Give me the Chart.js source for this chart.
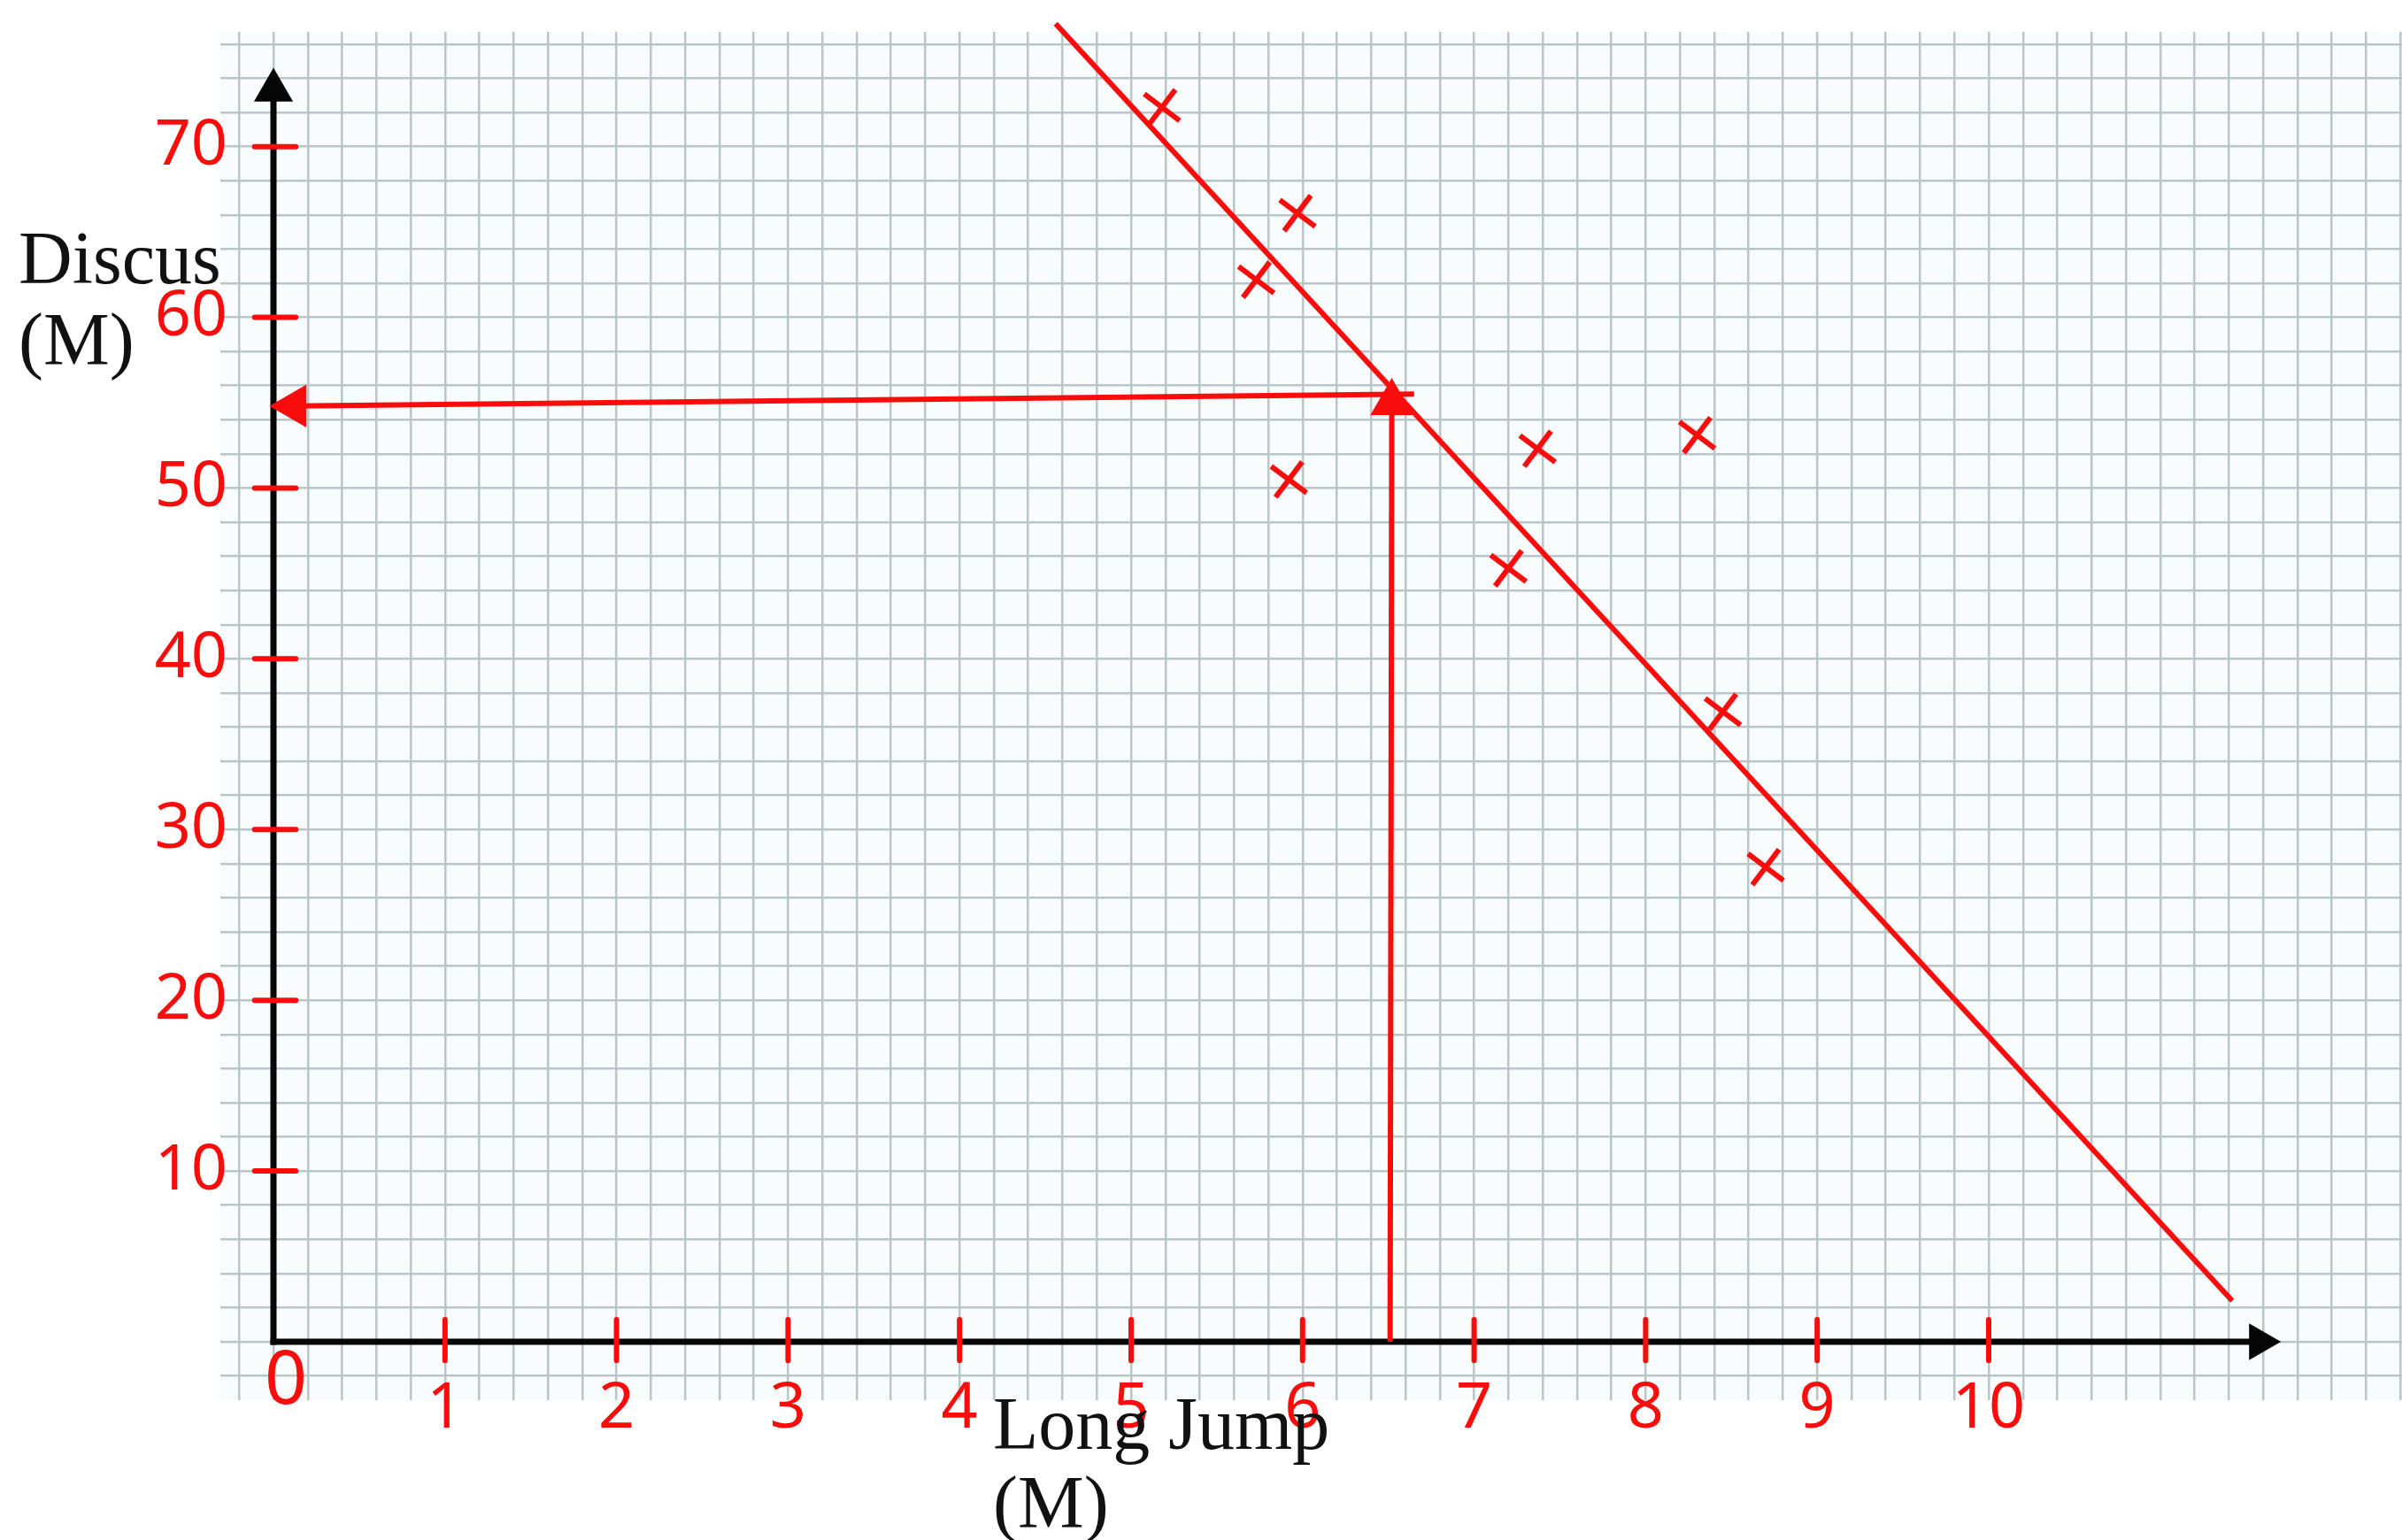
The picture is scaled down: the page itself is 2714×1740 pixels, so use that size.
<!DOCTYPE html>
<html>
<head>
<meta charset="utf-8">
<title>Discus vs Long Jump</title>
<script src="https://cdn.jsdelivr.net/npm/chart.js@4.4.1/dist/chart.umd.min.js"></script>
<style>
  html, body { margin: 0; padding: 0; background: #fff; overflow: hidden; }
  #wrap { width: 2714px; height: 1740px; }
</style>
</head>
<body>
<div id="wrap"><canvas id="scatter" width="2714" height="1740"></canvas></div>
<script>
// Plotted results: long jump (m) against discus (m)
const longJump = [5.18, 5.97, 5.73, 7.37, 8.30, 5.92, 7.20, 8.45, 8.70];
const discus   = [72.3, 66.1, 62.2, 52.3, 53.1, 50.5, 45.3, 36.9, 27.8];

// Hand-drawn line of best fit (its two ends)
const fitX = [4.56, 11.42];
const fitY = [77.2, 2.4];

// Reading off the line at 6.5 m: up from the x axis, then across to the y axis
const readUpX = [6.51, 6.52];
const readUpY = [0, 55.0];
const readAcrossX = [6.65, 0.12];
const readAcrossY = [55.5, 54.8];

// Axis tick labels
const xTicks = [1, 2, 3, 4, 5, 6, 7, 8, 9, 10];
const yTicks = [10, 20, 30, 40, 50, 60, 70];

// Where the drawn axes stop (arrowheads)
const xAxisEnd = 11.58;
const yAxisEnd = 73.3;

const RED = '#f80c0c';
const INK = '#060606';

function pts(xs, ys) {
    return xs.map((v, i) => ({ x: v, y: ys[i] }));
}

// short strokes across the axes at every labelled value
const xTickMarks = [];
xTicks.forEach(v => {
    xTickMarks.push({ x: v, y: -1.1 }, { x: v, y: 1.3 }, { x: v, y: null });
});
const yTickMarks = [];
yTicks.forEach(v => {
    yTickMarks.push({ x: -0.11, y: v }, { x: 0.13, y: v }, { x: null, y: v });
});

// graph paper background
const paperPlugin = {
    id: 'paper',
    beforeDraw(chart) {
        const { ctx, chartArea: a } = chart;
        ctx.save();
        ctx.fillStyle = '#ffffff';
        ctx.fillRect(0, 0, chart.width, chart.height);
        ctx.fillStyle = '#f9fcfc';
        ctx.fillRect(a.left, a.top, a.right - a.left, a.bottom - a.top);
        ctx.restore();
    }
};

// red hand-written numbers and the axis titles
const labelPlugin = {
    id: 'handLabels',
    afterDraw(chart) {
        const { ctx, scales: { x, y } } = chart;
        const x0 = x.getPixelForValue(0);
        const y0 = y.getPixelForValue(0);
        ctx.save();
        ctx.fillStyle = RED;
        ctx.font = '72px "Noto Sans"';
        ctx.textAlign = 'center';
        ctx.textBaseline = 'middle';
        xTicks.forEach(v => ctx.fillText(String(v), x.getPixelForValue(v), y0 + 76));
        ctx.font = '84px "Noto Sans"';
        ctx.fillText('0', x0 + 14, y0 + 46);
        ctx.font = '72px "Noto Sans"';
        ctx.textAlign = 'right';
        yTicks.forEach(v => ctx.fillText(String(v), x0 - 52, y.getPixelForValue(v)));

        ctx.fillStyle = '#111';
        ctx.font = '84px "Liberation Serif"';
        ctx.textAlign = 'left';
        ctx.textBaseline = 'alphabetic';
        ctx.fillText('Discus', 21, 320);
        ctx.fillText('(M)', 21, 412);
        ctx.fillText('Long Jump', 1122, 1637);
        ctx.fillText('(M)', 1122, 1726);
        ctx.restore();
    }
};

const gridStyle = {
    color: '#b9c5c9',
    lineWidth: 2.5,
    drawTicks: false
};

new Chart(document.getElementById('scatter'), {
    type: 'scatter',
    data: {
        datasets: [{
            label: 'Results',
            data: pts(longJump, discus),
            showLine: false,
            pointStyle: 'crossRot',
            pointRadius: 25,
            pointBorderWidth: 6,
            pointRotation: -8,
            borderColor: RED,
            backgroundColor: RED
        }, {
            label: 'Best fit',
            data: pts(fitX, fitY),
            showLine: true,
            borderColor: RED,
            borderWidth: 6,
            pointRadius: 0,
            clip: false
        }, {
            label: 'Read up',
            data: pts(readUpX, readUpY),
            showLine: true,
            borderColor: RED,
            backgroundColor: RED,
            borderWidth: 6,
            pointStyle: 'triangle',
            pointRadius: [0, 22],
            pointRotation: 0
        }, {
            label: 'Read across',
            data: pts(readAcrossX, readAcrossY),
            showLine: true,
            borderColor: RED,
            backgroundColor: RED,
            borderWidth: 6,
            pointStyle: 'triangle',
            pointRadius: [0, 22],
            pointRotation: 270
        }, {
            label: 'x ticks',
            data: xTickMarks,
            showLine: true,
            spanGaps: false,
            borderColor: RED,
            borderWidth: 6,
            borderCapStyle: 'round',
            pointRadius: 0
        }, {
            label: 'y ticks',
            data: yTickMarks,
            showLine: true,
            spanGaps: false,
            borderColor: RED,
            borderWidth: 6,
            borderCapStyle: 'round',
            pointRadius: 0
        }, {
            label: 'x axis',
            data: [{ x: 0, y: 0 }, { x: xAxisEnd, y: 0 }],
            showLine: true,
            borderColor: INK,
            backgroundColor: INK,
            borderWidth: 7,
            borderCapStyle: 'square',
            pointStyle: 'triangle',
            pointRadius: [0, 17],
            pointRotation: 90
        }, {
            label: 'y axis',
            data: [{ x: 0, y: 0 }, { x: 0, y: yAxisEnd }],
            showLine: true,
            borderColor: INK,
            backgroundColor: INK,
            borderWidth: 7,
            borderCapStyle: 'square',
            pointStyle: 'triangle',
            pointRadius: [0, 18.5],
            pointRotation: 0
        }]
    },
    options: {
        responsive: false,
        animation: false,
        events: [],
        layout: {
            autoPadding: false,
            padding: { left: 249, right: 0, top: 36, bottom: 158 }
        },
        plugins: {
            legend: { display: false },
            tooltip: { enabled: false }
        },
        scales: {
            x: {
                type: 'linear',
                min: -0.3096,
                max: 12.4097,
                border: { display: false },
                grid: gridStyle,
                ticks: { display: false, stepSize: 0.2, includeBounds: false, autoSkip: false }
            },
            y: {
                type: 'linear',
                min: -3.42,
                max: 76.72,
                border: { display: false },
                grid: gridStyle,
                ticks: { display: false, stepSize: 2, includeBounds: false, autoSkip: false }
            }
        }
    },
    plugins: [paperPlugin, labelPlugin]
});
</script>
</body>
</html>
